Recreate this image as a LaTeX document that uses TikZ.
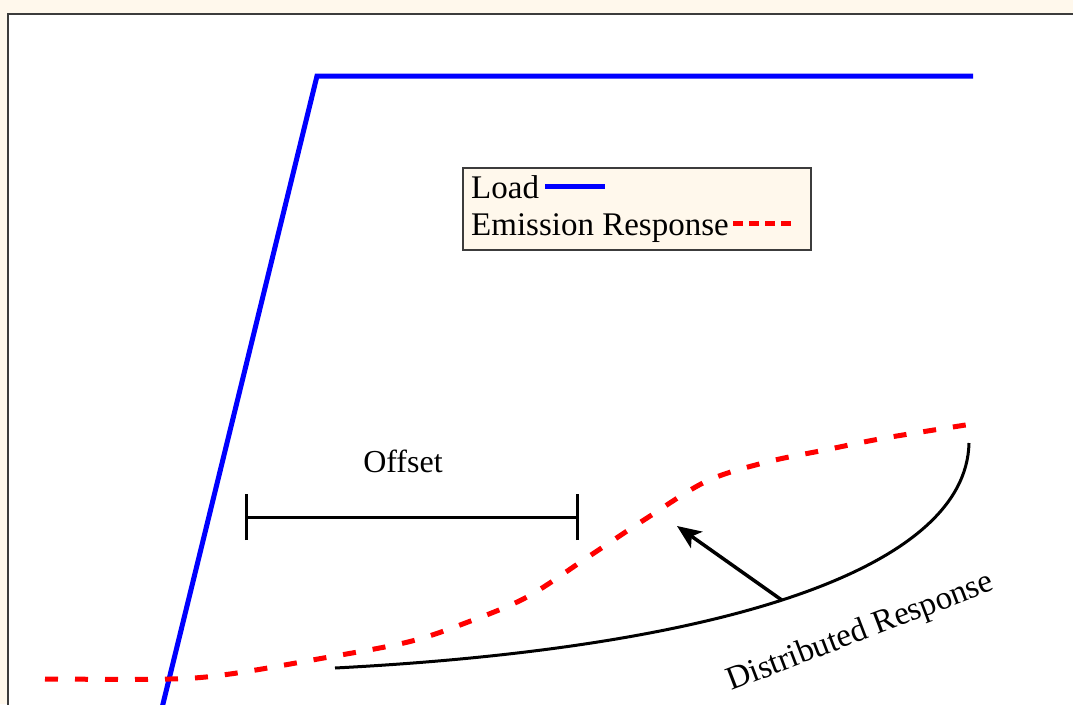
\documentclass[tikz,border=0pt]{standalone}
\usepackage{fontspec}
\setmainfont{Liberation Serif}
\usetikzlibrary{arrows.meta}
\definecolor{paper}{RGB}{255,248,236}
\definecolor{frame}{RGB}{60,60,60}
\begin{document}
\begin{tikzpicture}[x=1pt,y=-1pt,
  loadline/.style={draw=blue,line width=5pt,line join=miter},
  emission/.style={draw=red,line width=5pt,dash pattern=on 13pt off 17pt},
  marker/.style={draw=black,line width=3pt},
  txt/.style={font=\fontsize{33}{39}\selectfont,inner sep=0pt}]
% page and plot panel
\fill[paper] (0,0) rectangle (1073,704);
\useasboundingbox (0,0) rectangle (1073,704);
\fill[white] (8,14) rectangle (1090,720);
\draw[frame,line width=2pt] (8,720) -- (8,14) -- (1090,14);

% load ramp and plateau
\coordinate (rampFoot) at (161,712);
\coordinate (rampTop) at (317,76);
\coordinate (plateauEnd) at (973,76);
\draw[loadline] (rampFoot) -- (rampTop) -- (plateauEnd);

% emission response
\draw[emission] plot[smooth,tension=0.55] coordinates {
  (45,679) (170,679) (230,674) (318,659) (408,642) (468,622) (527,597)
  (588,557) (647,518) (707,481) (767,462) (825,450) (885,438) (972,424)};

% offset bracket
\coordinate (offL) at (246,517);
\coordinate (offR) at (577,517);
\draw[marker] (offL) -- (offR);
\draw[marker] ([yshift=-23pt]offL) -- ([yshift=23pt]offL);
\draw[marker] ([yshift=-23pt]offR) -- ([yshift=23pt]offR);
\node[txt,font=\fontsize{32}{38}\selectfont,anchor=base] (offsetLbl) at (403,472) {Offset};

% distributed response curve and arrow
\coordinate (drStart) at (335,668);
\coordinate (drEnd) at (969,443);
\draw[marker] (drStart) .. controls (720,648) and (966,570) .. (drEnd)
  coordinate[pos=0.48] (drFoot);
\coordinate (drTip) at (677,526);
\draw[marker,line width=3.5pt,-{Stealth[length=24pt,width=20pt,inset=6pt]}] (drFoot) -- (drTip);
\node[txt,rotate=21,anchor=base west] (drLbl) at (731,691) {Distributed Response};

% legend
\node[draw=frame,line width=1.5pt,fill=paper,anchor=north west,
      minimum width=348pt,minimum height=82pt,inner sep=0pt] (legend) at (462,167) {};
\node[txt,anchor=base west] (legLoad) at (471,198) {Load};
\node[txt,anchor=base west] (legEm) at (471,235) {Emission Response};
\coordinate (legLoadA) at (545,186);
\coordinate (legLoadB) at (605,186);
\draw[loadline] (legLoadA) -- (legLoadB);
\coordinate (legEmA) at (733,223);
\coordinate (legEmB) at (795,223);
\draw[draw=red,line width=5pt,dash pattern=on 10pt off 6pt] (legEmA) -- (legEmB);
\end{tikzpicture}
\end{document}
